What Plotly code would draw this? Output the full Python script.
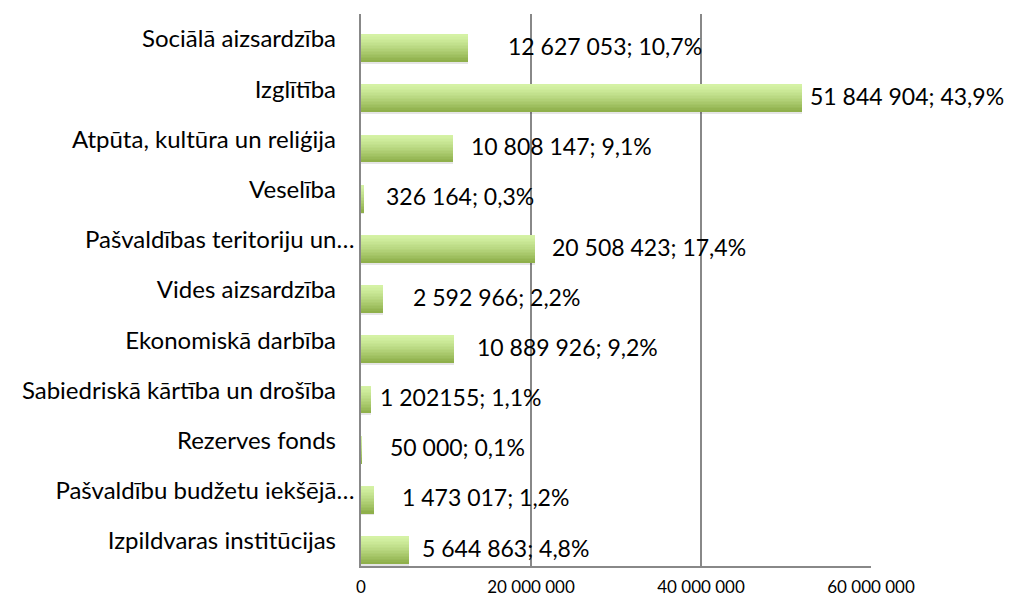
import plotly.graph_objects as go

# ---- data (top to bottom as shown) ----
categories = [
    "Sociālā aizsardzība",
    "Izglītība",
    "Atpūta, kultūra un reliģija",
    "Veselība",
    "Pašvaldības teritoriju un…",
    "Vides aizsardzība",
    "Ekonomiskā darbība",
    "Sabiedriskā kārtība un drošība",
    "Rezerves fonds",
    "Pašvaldību budžetu iekšējā…",
    "Izpildvaras institūcijas",
]
values = [12627053, 51844904, 10808147, 326164, 20508423, 2592966,
          10889926, 1202155, 50000, 1473017, 5644863]
labels = [
    "12 627 053; 10,7%",
    "51 844 904; 43,9%",
    "10 808 147; 9,1%",
    "326 164; 0,3%",
    "20 508 423; 17,4%",
    "2 592 966; 2,2%",
    "10 889 926; 9,2%",
    "1 202155; 1,1%",
    "50 000; 0,1%",
    "1 473 017; 1,2%",
    "5 644 863; 4,8%",
]
x_tick_values = [0, 20000000, 40000000, 60000000]
x_tick_labels = ["0", "20 000 000", "40 000 000", "60 000 000"]

# ---- styling / positioning (not data) ----
label_xshift = [38, 6, 16, 20, 15, 28, 21, 7, 27, 26, 11]
FONT = "Lato"
n = len(categories)
pos = [n - 1 - i for i in range(n)]

bar_shift = -0.173      # bars sit a bit below the category centre
bar_h = 0.54
top_edge = bar_shift + bar_h / 2
N = 18
h = bar_h / N
top_rgb = (214, 243, 166)
bot_rgb = (140, 174, 72)

fig = go.Figure()

# soft shadow
fig.add_trace(go.Bar(
    x=values, y=pos, orientation="h",
    width=bar_h, offset=bar_shift - bar_h / 2 - 0.05,
    marker=dict(color="rgba(0,0,0,0.10)", line=dict(width=0)),
    hoverinfo="skip", showlegend=False,
))

for k in range(N):
    t = (k + 0.5) / N
    t = t ** 1.3
    c = tuple(round(a + (b - a) * t) for a, b in zip(top_rgb, bot_rgb))
    fig.add_trace(go.Bar(
        x=values, y=pos, orientation="h",
        width=h + 0.006, offset=top_edge - (k + 1) * h - 0.006,
        marker=dict(color="rgb(%d,%d,%d)" % c, line=dict(width=0)),
        hoverinfo="skip", showlegend=False,
    ))

for i in range(n):
    fig.add_annotation(
        x=values[i], y=pos[i] + bar_shift, xref="x", yref="y",
        text=labels[i], showarrow=False, xanchor="left", yanchor="middle",
        xshift=label_xshift[i], yshift=2,
        font=dict(family=FONT, size=23, color="#000000"),
    )

tick_text = [c if c.endswith("…") else c + "\u00a0" * 3 for c in categories]

# the page body has an 8px margin, so the figure is 8px smaller and offset
fig.update_layout(
    width=1004, height=590,
    margin=dict(l=353, r=141, t=6, b=32, autoexpand=False),
    paper_bgcolor="white", plot_bgcolor="white",
    barmode="overlay",
    bargap=0,
    xaxis=dict(
        range=[0, 60000000], tickvals=x_tick_values, ticktext=x_tick_labels,
        showgrid=True, gridcolor="#888888", gridwidth=1.5,
        zeroline=False, showline=True, linecolor="#888888", linewidth=1.5,
        ticks="", ticklabelstandoff=5, automargin=False,
        tickfont=dict(family=FONT, size=17, color="#000000"),
        fixedrange=True,
    ),
    yaxis=dict(
        range=[-0.5, n - 0.5], tickvals=pos, ticktext=tick_text,
        showgrid=False, zeroline=False, showline=True,
        linecolor="#888888", linewidth=1.5, ticks="",
        ticklabelstandoff=0, automargin=False,
        tickfont=dict(family=FONT, size=24, color="#000000"),
        fixedrange=True,
    ),
)

fig.write_html("out.html")
